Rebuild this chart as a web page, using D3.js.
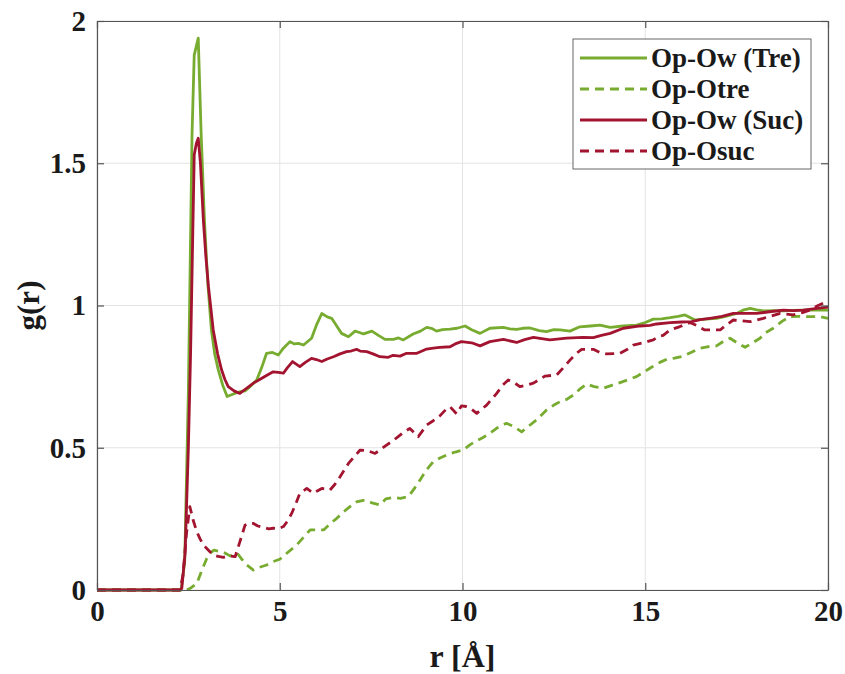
<style>body { margin: 0; } svg { display: block; }</style>
<svg width="845" height="674"></svg>

<script src="https://d3js.org/d3.v7.min.js"></script>
<script>

	// g(r) curves as [r, g] pairs
	const treOw = [[0,0],[2.3,0],[2.4,0.1],[2.5,0.7],[2.6,1.6],[2.66,1.88],[2.77,1.94],[2.85,1.6],[2.94,1.30],[3.03,1.08],[3.13,0.914],[3.22,0.83],[3.32,0.773],[3.44,0.72],[3.56,0.68],[3.75,0.69],[3.91,0.697],[4.05,0.70],[4.19,0.715],[4.37,0.738],[4.5,0.78],[4.64,0.832],[4.8,0.835],[4.96,0.826],[5.1,0.85],[5.28,0.873],[5.4,0.865],[5.51,0.867],[5.65,0.861],[5.87,0.885],[6.0,0.93],[6.15,0.972],[6.3,0.96],[6.42,0.955],[6.55,0.93],[6.69,0.902],[6.88,0.89],[7.06,0.91],[7.18,0.905],[7.29,0.90],[7.52,0.91],[7.7,0.895],[7.88,0.881],[8.11,0.881],[8.25,0.886],[8.38,0.879],[8.65,0.90],[8.85,0.91],[9.02,0.923],[9.15,0.92],[9.29,0.91],[9.45,0.915],[9.66,0.917],[9.85,0.92],[10.07,0.928],[10.25,0.915],[10.48,0.902],[10.75,0.92],[11.12,0.923],[11.3,0.918],[11.48,0.916],[11.65,0.92],[11.85,0.921],[12.1,0.912],[12.3,0.908],[12.5,0.915],[12.67,0.914],[12.94,0.91],[13.21,0.925],[13.5,0.928],[13.76,0.931],[14.04,0.923],[14.4,0.928],[14.76,0.931],[15.0,0.94],[15.22,0.952],[15.45,0.953],[15.68,0.957],[15.9,0.962],[16.09,0.967],[16.36,0.949],[16.65,0.952],[16.95,0.955],[17.2,0.962],[17.5,0.972],[17.7,0.985],[17.87,0.99],[18.05,0.985],[18.23,0.981],[18.5,0.982],[18.78,0.981],[19.05,0.983],[19.32,0.984],[19.65,0.984],[20,0.984]]

	const treOtre = [[0,0],[2.45,0],[2.54,0.005],[2.73,0.023],[2.91,0.082],[3.0,0.11],[3.09,0.129],[3.2,0.14],[3.37,0.135],[3.5,0.13],[3.64,0.12],[3.84,0.129],[3.95,0.11],[4.1,0.088],[4.28,0.07],[4.45,0.08],[4.64,0.088],[4.82,0.10],[5.0,0.108],[5.2,0.13],[5.46,0.158],[5.65,0.185],[5.83,0.211],[6.0,0.211],[6.2,0.211],[6.4,0.235],[6.56,0.252],[6.75,0.275],[6.92,0.293],[7.1,0.31],[7.33,0.316],[7.55,0.305],[7.74,0.299],[7.9,0.32],[8.11,0.325],[8.3,0.322],[8.52,0.328],[8.7,0.36],[8.84,0.387],[9.0,0.42],[9.2,0.451],[9.4,0.465],[9.57,0.475],[9.8,0.485],[10.02,0.492],[10.2,0.51],[10.39,0.525],[10.55,0.535],[10.75,0.551],[10.95,0.57],[11.2,0.586],[11.4,0.575],[11.62,0.556],[11.8,0.575],[12.03,0.598],[12.3,0.633],[12.5,0.65],[12.67,0.662],[12.85,0.67],[13.03,0.685],[13.2,0.705],[13.4,0.724],[13.6,0.715],[13.85,0.709],[14.1,0.72],[14.31,0.729],[14.55,0.74],[14.76,0.75],[14.95,0.765],[15.17,0.783],[15.4,0.80],[15.59,0.811],[15.8,0.815],[16.04,0.822],[16.25,0.835],[16.5,0.85],[16.7,0.855],[16.95,0.858],[17.15,0.875],[17.32,0.885],[17.5,0.87],[17.73,0.853],[17.95,0.87],[18.14,0.885],[18.3,0.905],[18.5,0.92],[18.75,0.945],[18.96,0.961],[19.2,0.962],[19.42,0.961],[19.6,0.961],[19.78,0.961],[20,0.955]]

	const sucOw = [[0,0],[2.27,0],[2.32,0.006],[2.41,0.13],[2.5,0.5],[2.56,0.83],[2.62,1.25],[2.66,1.53],[2.72,1.57],[2.77,1.588],[2.83,1.5],[2.91,1.30],[2.98,1.17],[3.05,1.066],[3.18,0.914],[3.3,0.83],[3.41,0.773],[3.5,0.74],[3.59,0.715],[3.75,0.70],[3.91,0.691],[4.1,0.71],[4.28,0.727],[4.45,0.74],[4.65,0.755],[4.82,0.767],[4.96,0.765],[5.1,0.762],[5.2,0.78],[5.35,0.803],[5.55,0.785],[5.7,0.80],[5.87,0.814],[6.0,0.81],[6.15,0.803],[6.3,0.812],[6.47,0.82],[6.65,0.83],[6.83,0.838],[6.95,0.84],[7.1,0.846],[7.2,0.84],[7.38,0.838],[7.55,0.83],[7.74,0.82],[7.97,0.818],[8.1,0.825],[8.29,0.822],[8.47,0.832],[8.75,0.832],[9.02,0.847],[9.2,0.85],[9.38,0.853],[9.66,0.855],[9.8,0.865],[9.97,0.873],[10.25,0.869],[10.48,0.858],[10.75,0.873],[11.12,0.881],[11.48,0.87],[11.7,0.88],[11.94,0.888],[12.39,0.879],[12.85,0.885],[13.3,0.888],[13.58,0.887],[13.8,0.895],[14.04,0.902],[14.4,0.92],[14.86,0.928],[15.13,0.93],[15.31,0.935],[15.68,0.94],[16.0,0.942],[16.27,0.943],[16.5,0.95],[16.77,0.955],[17.1,0.962],[17.41,0.972],[17.7,0.972],[18.05,0.972],[18.4,0.978],[18.78,0.984],[19.05,0.982],[19.32,0.984],[19.7,0.99],[20,0.994]]

	const sucOsuc = [[0,0],[2.27,0],[2.35,0.05],[2.45,0.2],[2.54,0.293],[2.63,0.246],[2.73,0.205],[2.82,0.18],[2.91,0.158],[3.05,0.14],[3.18,0.123],[3.32,0.118],[3.46,0.115],[3.6,0.12],[3.78,0.117],[3.91,0.17],[4.05,0.228],[4.15,0.235],[4.28,0.234],[4.4,0.225],[4.55,0.22],[4.7,0.215],[4.82,0.217],[4.95,0.215],[5.1,0.223],[5.2,0.24],[5.33,0.27],[5.46,0.31],[5.55,0.34],[5.74,0.357],[5.92,0.34],[6.05,0.35],[6.15,0.357],[6.37,0.351],[6.5,0.37],[6.65,0.398],[6.88,0.445],[7.05,0.47],[7.2,0.492],[7.4,0.49],[7.61,0.48],[7.93,0.51],[8.1,0.525],[8.24,0.539],[8.4,0.555],[8.56,0.568],[8.7,0.55],[8.79,0.539],[9.02,0.58],[9.2,0.595],[9.38,0.612],[9.55,0.635],[9.66,0.644],[9.84,0.619],[9.97,0.647],[10.1,0.645],[10.2,0.64],[10.39,0.621],[10.66,0.65],[10.93,0.69],[11.1,0.72],[11.25,0.738],[11.4,0.73],[11.57,0.715],[11.75,0.72],[11.94,0.727],[12.1,0.74],[12.26,0.752],[12.58,0.756],[12.75,0.78],[12.94,0.808],[13.1,0.83],[13.26,0.846],[13.58,0.846],[13.75,0.835],[13.94,0.83],[14.31,0.832],[14.5,0.845],[14.67,0.861],[14.95,0.869],[15.1,0.875],[15.22,0.879],[15.35,0.89],[15.49,0.895],[15.68,0.914],[15.95,0.926],[16.22,0.94],[16.4,0.93],[16.63,0.914],[17.05,0.914],[17.2,0.93],[17.41,0.949],[17.87,0.943],[18.23,0.955],[18.69,0.972],[19.05,0.967],[19.3,0.975],[19.5,0.984],[19.7,0.998],[19.87,1.008],[20,1.008]]

	const seriesNames = ["Op-Ow (Tre)", "Op-Otre", "Op-Ow (Suc)", "Op-Osuc"]
	const seriesData = [treOw, treOtre, sucOw, sucOsuc]

	const xTicks = [0, 5, 10, 15, 20]
	const yTicks = [0, 0.5, 1, 1.5, 2]
	const yTickLabels = ["0", "0.5", "1", "1.5", "2"]

	const green = "#77ac30"
	const red = "#a2142f"
	const styles = [
		{color: green, dash: null},
		{color: green, dash: "9,6"},
		{color: red, dash: null},
		{color: red, dash: "9,6"}
	]

	const margin = {top: 21, right: 17, bottom: 84, left: 97}
	const W = 845, H = 674
	const w = W - margin.left - margin.right
	const h = H - margin.top - margin.bottom
	const font = "'Liberation Serif', 'Times New Roman', Times, 'DejaVu Serif', serif"

	const svg = d3.select("svg")
		.style("font-family", font)
		.style("background", "#fff")

	const g = svg.append("g").attr("transform", `translate(${margin.left},${margin.top})`)

	const x = d3.scaleLinear().domain([0, 20]).range([0, w])
	const y = d3.scaleLinear().domain([0, 2]).range([h, 0])

	// grid
	g.append("g").selectAll("line").data(xTicks).join("line")
		.attr("x1", d => x(d)).attr("x2", d => x(d))
		.attr("y1", 0).attr("y2", h)
		.attr("stroke", "#e3e3e3").attr("stroke-width", 1)
	g.append("g").selectAll("line").data(yTicks).join("line")
		.attr("y1", d => y(d)).attr("y2", d => y(d))
		.attr("x1", 0).attr("x2", w)
		.attr("stroke", "#e3e3e3").attr("stroke-width", 1)

	// curves
	const line = d3.line().x(d => x(d[0])).y(d => y(d[1]))
	seriesData.forEach((data, i) => {
		g.append("path")
			.datum(data)
			.attr("d", line)
			.attr("fill", "none")
			.attr("stroke", styles[i].color)
			.attr("stroke-width", 2.8)
			.attr("stroke-dasharray", styles[i].dash)
			.attr("stroke-linejoin", "round")
	})

	// axes, ticks pointing inward
	const axisColor = "#555"
	const xAxis = g.append("g").attr("transform", `translate(0,${h})`)
		.call(d3.axisBottom(x).tickValues(xTicks).tickSizeInner(-7).tickSizeOuter(0).tickPadding(10).tickFormat(d3.format("d")))
	const yAxis = g.append("g")
		.call(d3.axisLeft(y).tickValues(yTicks).tickSizeInner(-7).tickSizeOuter(0).tickPadding(11).tickFormat((d, i) => yTickLabels[i]))
	const topAxis = g.append("g")
		.call(d3.axisTop(x).tickValues(xTicks).tickSizeInner(-7).tickSizeOuter(0).tickFormat(""))
	const rightAxis = g.append("g").attr("transform", `translate(${w},0)`)
		.call(d3.axisRight(y).tickValues(yTicks).tickSizeInner(-7).tickSizeOuter(0).tickFormat(""))

	;[xAxis, yAxis, topAxis, rightAxis].forEach(a => {
		a.attr("font-family", null)
		a.select(".domain").attr("stroke", axisColor).attr("stroke-width", 1.2)
		a.selectAll(".tick line").attr("stroke", axisColor).attr("stroke-width", 1.2)
		a.selectAll(".tick text")
			.attr("fill", "#1a1a1a")
			.style("font-family", font)
			.attr("font-weight", "bold")
			.attr("font-size", 29)
	})

	// axis labels
	svg.append("text")
		.attr("x", margin.left + w / 2).attr("y", 667)
		.attr("text-anchor", "middle")
		.style("font-family", font)
		.attr("font-weight", "bold").attr("font-size", 32).attr("fill", "#1a1a1a")
		.text("r [Å]")
	svg.append("text")
		.attr("transform", `translate(39,${margin.top + h / 2}) rotate(-90)`)
		.attr("text-anchor", "middle")
		.style("font-family", font)
		.attr("font-weight", "bold").attr("font-size", 31).attr("fill", "#1a1a1a")
		.text("g(r)")

	// legend
	const lx = 573, ly = 39, lw = 238, lh = 130
	const legend = svg.append("g")
	legend.append("rect")
		.attr("x", lx).attr("y", ly).attr("width", lw).attr("height", lh)
		.attr("fill", "#fff").attr("stroke", "#666").attr("stroke-width", 1)
	const rows = legend.selectAll("g").data(seriesNames).join("g")
		.attr("transform", (d, i) => `translate(0,${ly + 19 + i * 31})`)
	rows.append("line")
		.attr("x1", 580).attr("x2", 647).attr("y1", 0).attr("y2", 0)
		.attr("stroke", (d, i) => styles[i].color)
		.attr("stroke-width", 2.8)
		.attr("stroke-dasharray", (d, i) => styles[i].dash)
	rows.append("text")
		.attr("x", 651).attr("y", 9)
		.style("font-family", font)
		.attr("font-weight", "bold").attr("font-size", 27).attr("fill", "#1a1a1a")
		.text(d => d)

</script>
